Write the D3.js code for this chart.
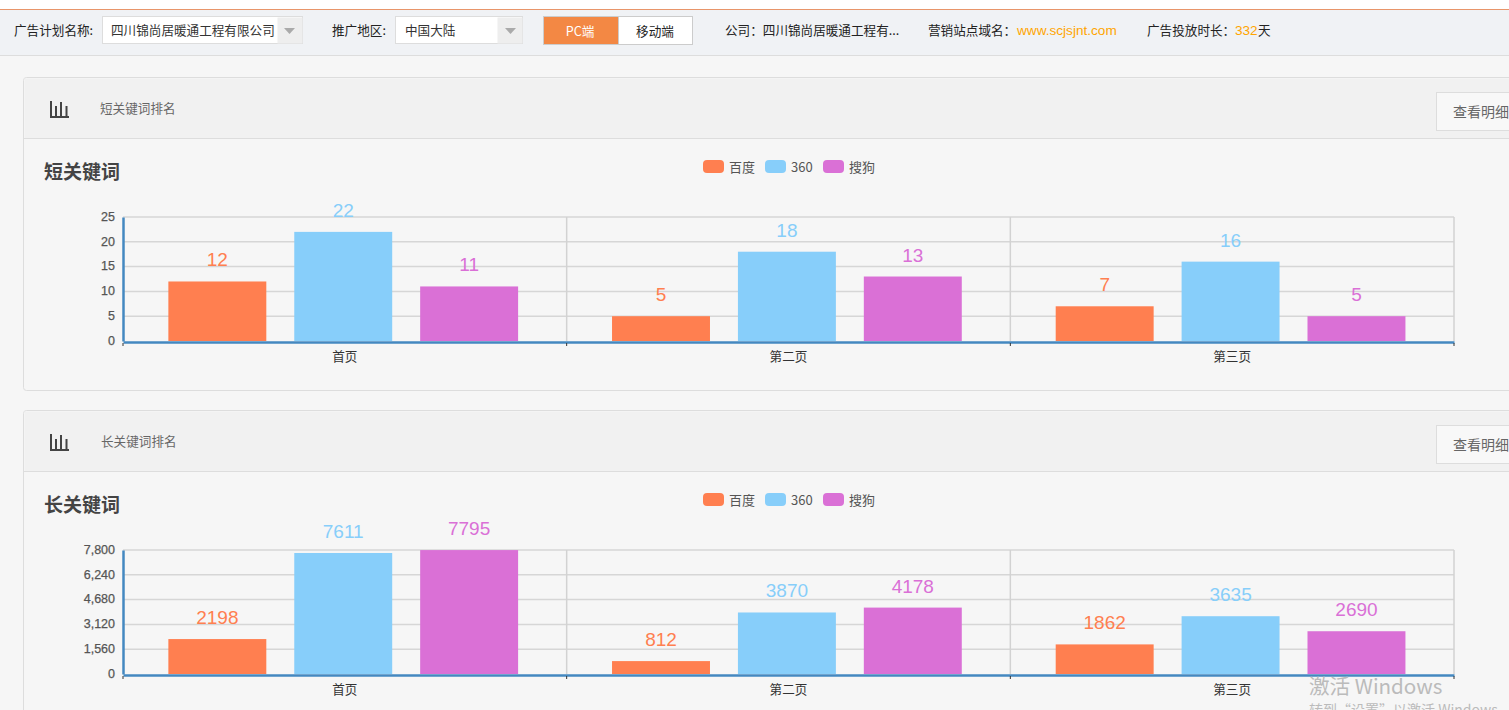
<!DOCTYPE html>
<html>
<head>
<meta charset="utf-8">
<script src="https://cdn.jsdelivr.net/npm/d3@7"></script>
<style>
  html, body { margin: 0; padding: 0; background: #f6f6f6; overflow: hidden; }
  svg { display: block; }
  text { font-family: "Noto Sans CJK SC", "Liberation Sans", sans-serif; }
  .num { font-family: "Liberation Sans", sans-serif; }
</style>
</head>
<body>
<div id="chart"></div>
<script>
const pages = ["首页", "第二页", "第三页"];
const engines = ["百度", "360", "搜狗"];
const colors = ["#ff7f50", "#87cefa", "#da70d6"];

const shortBaidu = [12, 5, 7];
const shortQihoo = [22, 18, 16];
const shortSogou = [11, 13, 5];
const shortTicks = [0, 5, 10, 15, 20, 25];

const longBaidu = [2198, 812, 1862];
const longQihoo = [7611, 3870, 3635];
const longSogou = [7795, 4178, 2690];
const longTicks = [0, 1560, 3120, 4680, 6240, 7800];

const W = 1509, H = 710;

const svg = d3.select("#chart").append("svg")
  .attr("width", W)
  .attr("height", H);

svg.append("rect").attr("width", W).attr("height", H).attr("fill", "#f6f6f6");

function label(parent, x, y, str, size, color, weight) {
  return parent.append("text")
    .attr("x", x)
    .attr("y", y)
    .attr("font-size", size)
    .attr("fill", color)
    .attr("font-weight", weight || "normal")
    .text(str);
}

function box(parent, x, y, w, h, fill, stroke) {
  return parent.append("rect")
    .attr("x", x + 0.5)
    .attr("y", y + 0.5)
    .attr("width", w)
    .attr("height", h)
    .attr("fill", fill)
    .attr("stroke", stroke || "none");
}

// toolbar
function drawToolbar() {
  const bar = svg.append("g");
  box(bar, -1, -1, W + 2, 10, "#ffffff");
  box(bar, -1, 9, W + 2, 46, "#f0f2f5");
  bar.append("line").attr("x1", 0).attr("x2", W).attr("y1", 9.5).attr("y2", 9.5).attr("stroke", "#e8956a");
  bar.append("line").attr("x1", 0).attr("x2", W).attr("y1", 55.5).attr("y2", 55.5).attr("stroke", "#dddddd");

  label(bar, 14, 34.5, "广告计划名称:", 12.6, "#222");
  box(bar, 102, 16, 200, 27, "#ffffff", "#dddddd");
  box(bar, 277, 17, 25, 26, "#eeeeee");
  bar.append("path").attr("d", "M284 28h11l-5.5 6z").attr("fill", "#aaaaaa");
  label(bar, 111, 34.5, "四川锦尚居暖通工程有限公司", 12.6, "#333");

  label(bar, 332, 34.5, "推广地区:", 12.6, "#222");
  box(bar, 395, 16, 127, 27, "#ffffff", "#dddddd");
  box(bar, 497, 17, 25, 26, "#eeeeee");
  bar.append("path").attr("d", "M505 28h11l-5.5 6z").attr("fill", "#aaaaaa");
  label(bar, 405, 34.5, "中国大陆", 12.6, "#333");

  box(bar, 618, 16, 74, 28, "#ffffff", "#cccccc");
  box(bar, 543, 16, 75, 28, "#f38844", "#cccccc");
  label(bar, 580, 36, "PC端", 12.6, "#ffffff").attr("text-anchor", "middle");
  label(bar, 655, 36, "移动端", 12.6, "#222").attr("text-anchor", "middle");

  label(bar, 725, 34.5, "公司：四川锦尚居暖通工程有...", 12.6, "#222");
  label(bar, 928, 34.5, "营销站点域名：", 12.6, "#222");
  label(bar, 1017, 35, "www.scjsjnt.com", 13.6, "#ffa500").attr("class", "num");
  label(bar, 1147, 34.5, "广告投放时长：", 12.6, "#222");
  label(bar, 1235, 35, "332", 13.6, "#ffa500").attr("class", "num");
  label(bar, 1258, 34.5, "天", 12.6, "#222");
}

// one panel: header strip, title, legend and bars
function drawPanel(top, heading, title, textX, seriesList, ticks) {
  const g = svg.append("g").attr("transform", `translate(0,${top})`);

  g.append("rect")
    .attr("x", 23.5).attr("y", 0.5)
    .attr("width", W).attr("height", 313)
    .attr("rx", 3)
    .attr("fill", "#f6f6f6")
    .attr("stroke", "#dddddd");
  box(g, 24, 1, W, 60, "#f1f1f1");
  g.append("line").attr("x1", 24).attr("x2", W).attr("y1", 61.5).attr("y2", 61.5).attr("stroke", "#dddddd");

  // bar icon in the header
  g.append("path")
    .attr("d", "M51 24v16h18M56 29v11M61 25v15M66.500 29v11")
    .attr("fill", "none")
    .attr("stroke", "#444")
    .attr("stroke-width", 2);
  label(g, textX, 35.5, heading, 12.6, "#666");

  box(g, 1436, 15, 90, 38, "#f8f8f8", "#dddddd");
  label(g, 1453, 40, "查看明细", 14, "#666");

  label(g, 44, 102, title, 19, "#444", "bold");

  // legend
  const legendX = [703, 765, 823];
  engines.forEach((name, i) => {
    g.append("rect")
      .attr("x", legendX[i]).attr("y", 83)
      .attr("width", 21).attr("height", 13)
      .attr("rx", 4)
      .attr("fill", colors[i]);
    label(g, legendX[i] + 26, 94.5, name, 13, "#555");
  });

  // plot, y values relative to the panel top
  const x0 = d3.scaleBand().domain(pages).range([123, 1454]);
  const x1 = d3.scaleBand().domain(engines).range([0, x0.bandwidth()])
    .paddingInner(0.222).paddingOuter(0.373).align(0.483);
  const y = d3.scaleLinear().domain([0, d3.max(ticks)]).range([264, 140]);

  g.append("g")
    .selectAll("line")
    .data(ticks.slice(1))
    .join("line")
    .attr("x1", 123).attr("x2", 1454)
    .attr("y1", d => y(d)).attr("y2", d => y(d))
    .attr("stroke", "#d6d6d6")
    .attr("stroke-width", 1.5);

  g.append("g")
    .selectAll("line")
    .data(pages)
    .join("line")
    .attr("x1", d => x0(d) + x0.bandwidth()).attr("x2", d => x0(d) + x0.bandwidth())
    .attr("y1", y.range()[1]).attr("y2", y.range()[0])
    .attr("stroke", "#d2d2d2")
    .attr("stroke-width", 1.5);

  const groups = g.append("g")
    .selectAll("g")
    .data(pages)
    .join("g")
    .attr("transform", d => `translate(${x0(d)},0)`);

  seriesList.forEach((values, s) => {
    groups.append("rect")
      .attr("x", x1(engines[s]))
      .attr("width", x1.bandwidth())
      .attr("y", (d, i) => y(values[i]))
      .attr("height", (d, i) => y(0) - y(values[i]))
      .attr("fill", colors[s]);

    groups.append("text")
      .attr("class", "num")
      .attr("x", x1(engines[s]) + x1.bandwidth() / 2)
      .attr("y", (d, i) => y(values[i]) - 15)
      .attr("text-anchor", "middle")
      .attr("font-size", 19)
      .attr("fill", colors[s])
      .text((d, i) => values[i]);
  });

  // axes
  const yAxis = g.append("g")
    .attr("transform", "translate(123,0)")
    .call(d3.axisLeft(y).tickValues(ticks).tickSize(0).tickPadding(8).tickFormat(d3.format(",")));
  yAxis.select(".domain").attr("stroke", "#4488c0").attr("stroke-width", 2.5);
  yAxis.selectAll("text")
    .attr("class", "num")
    .attr("font-size", 12.5)
    .attr("dy", "0.26em")
    .attr("stroke", "#555")
    .attr("stroke-width", 0.25)
    .attr("fill", "#555");

  const xAxis = g.append("g")
    .attr("transform", "translate(0,265)")
    .call(d3.axisBottom(x0).tickSize(0).tickPadding(10));
  xAxis.select(".domain").attr("stroke", "#4488c0").attr("stroke-width", 2.5);
  xAxis.selectAll("text")
    .attr("font-size", 12.6)
    .attr("fill", "#333");

  xAxis.append("g")
    .selectAll("line")
    .data([...pages.map(d => x0(d)), x0.range()[1]])
    .join("line")
    .attr("x1", d => d).attr("x2", d => d)
    .attr("y1", 1).attr("y2", 4)
    .attr("stroke", "#333");
}

drawToolbar();
drawPanel(77, "短关键词排名", "短关键词", 100, [shortBaidu, shortQihoo, shortSogou], shortTicks);
drawPanel(410, "长关键词排名", "长关键词", 101, [longBaidu, longQihoo, longSogou], longTicks);

// activation watermark left on the screenshot
label(svg, 1309, 694, "激活 Windows", 20.6, "#bbbbbb");
label(svg, 1309, 715, "转到“设置”以激活 Windows。", 14, "#bbbbbb");
</script>
</body>
</html>
